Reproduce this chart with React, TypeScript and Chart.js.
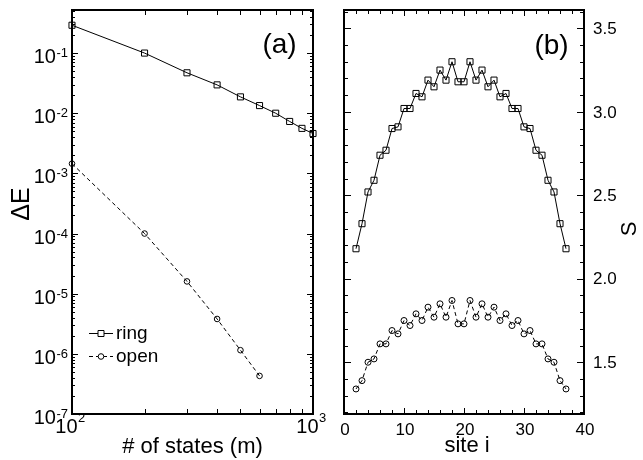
import React, { useEffect, useRef } from 'react';
import { Chart, registerables } from 'chart.js';

Chart.register(...registerables);

// ---------- data: panel (a) ----------
const statesM = [100, 200, 300, 400, 500, 600, 700, 800, 900, 1000];
const ringDeltaE = [0.29, 0.1, 0.047, 0.0296, 0.0187, 0.0134, 0.01, 0.0073, 0.0056, 0.0046];
const openStatesM = [100, 200, 300, 400, 500, 600];
const openDeltaE = [0.00145, 0.0001, 1.6e-5, 3.8e-6, 1.15e-6, 4.3e-7];

// ---------- data: panel (b) ----------
const sites = [2, 3, 4, 5, 6, 7, 8, 9, 10, 11, 12, 13, 14, 15, 16, 17, 18, 19, 20, 21, 22, 23, 24, 25, 26, 27, 28, 29, 30, 31, 32, 33, 34, 35, 36, 37];
const ringS = [2.18, 2.33, 2.52, 2.59, 2.74, 2.77, 2.9, 2.91, 3.02, 3.02, 3.11, 3.09, 3.19, 3.15, 3.25, 3.19, 3.3, 3.18, 3.18, 3.3, 3.19, 3.25, 3.15, 3.19, 3.09, 3.11, 3.02, 3.02, 2.91, 2.9, 2.77, 2.74, 2.59, 2.52, 2.33, 2.18];
const openS = [1.34, 1.39, 1.5, 1.52, 1.61, 1.61, 1.69, 1.67, 1.75, 1.72, 1.79, 1.75, 1.83, 1.77, 1.85, 1.77, 1.87, 1.73, 1.73, 1.87, 1.77, 1.85, 1.77, 1.83, 1.75, 1.79, 1.72, 1.75, 1.67, 1.69, 1.61, 1.61, 1.52, 1.5, 1.39, 1.34];

// ---------- ticks ----------
const yDecadeExpA = [-7, -6, -5, -4, -3, -2, -1];
const xDecadeExpA = [2, 3];
const siteTicks = [0, 10, 20, 30, 40];
const sTicks = [1.5, 2.0, 2.5, 3.0, 3.5];
const sTickLabels = ['1.5', '2.0', '2.5', '3.0', '3.5'];

const FONT = '"Liberation Sans", Arial, Helvetica, sans-serif';

function minorLog(exps: number[], maxV: number) {
  const out: number[] = [];
  for (const e of exps) for (let k = 2; k <= 9; k++) {
    const v = k * Math.pow(10, e);
    if (v <= maxV) out.push(v);
  }
  return out;
}

function frame(ctx: CanvasRenderingContext2D, a: any) {
  ctx.save();
  ctx.strokeStyle = '#000';
  ctx.lineWidth = 2;
  ctx.strokeRect(a.left, a.top, a.right - a.left, a.bottom - a.top);
  ctx.restore();
}

function ticksX(ctx: CanvasRenderingContext2D, sc: any, a: any, vals: number[], len: number) {
  ctx.save();
  ctx.strokeStyle = '#000';
  ctx.lineWidth = 1;
  ctx.beginPath();
  for (const v of vals) {
    const p = Math.round(sc.getPixelForValue(v)) + 0.5;
    ctx.moveTo(p, a.bottom); ctx.lineTo(p, a.bottom - len);
    ctx.moveTo(p, a.top); ctx.lineTo(p, a.top + len);
  }
  ctx.stroke();
  ctx.restore();
}

function ticksY(ctx: CanvasRenderingContext2D, sc: any, a: any, vals: number[], len: number) {
  ctx.save();
  ctx.strokeStyle = '#000';
  ctx.lineWidth = 1;
  ctx.beginPath();
  for (const v of vals) {
    const p = Math.round(sc.getPixelForValue(v)) + 0.5;
    ctx.moveTo(a.left, p); ctx.lineTo(a.left + len, p);
    ctx.moveTo(a.right, p); ctx.lineTo(a.right - len, p);
  }
  ctx.stroke();
  ctx.restore();
}

const BASE = 20;
const SUP = 13;

function powWidth(ctx: CanvasRenderingContext2D, exp: string) {
  ctx.font = `${BASE}px ${FONT}`;
  const w1 = ctx.measureText('10').width;
  ctx.font = `${SUP}px ${FONT}`;
  const w2 = ctx.measureText(exp).width;
  return [w1, w2];
}

function drawPow(ctx: CanvasRenderingContext2D, exp: string, left: number, base: number, supBase: number) {
  const [w1] = powWidth(ctx, exp);
  ctx.textAlign = 'left';
  ctx.textBaseline = 'alphabetic';
  ctx.font = `${BASE}px ${FONT}`;
  ctx.fillText('10', left, base);
  ctx.font = `${SUP}px ${FONT}`;
  ctx.fillText(exp, left + w1 + 0.5, supBase);
}

const panelAPlugin = {
  id: 'panelA',
  beforeDatasetsDraw(chart: any) {
    const { ctx, chartArea: a, scales } = chart;
    frame(ctx, a);
    ticksX(ctx, scales.x, a, minorLog([2], 1000), 5);
    ticksY(ctx, scales.y, a, minorLog(yDecadeExpA, 0.52), 3);
    ticksY(ctx, scales.y, a, yDecadeExpA.map((e) => Math.pow(10, e)), 6);
  },
  afterDraw(chart: any) {
    const { ctx, chartArea: a, scales } = chart;
    ctx.save();
    ctx.fillStyle = '#000';
    // y tick labels
    for (const e of yDecadeExpA) {
      const p = scales.y.getPixelForValue(Math.pow(10, e));
      const exp = String(e);
      const [w1, w2] = powWidth(ctx, exp);
      drawPow(ctx, exp, a.left - 4 - (w1 + w2 + 0.5), p + 10, p + 4);
    }
    // x tick labels
    for (const e of xDecadeExpA) {
      const p = scales.x.getPixelForValue(Math.pow(10, e));
      const exp = String(e);
      const [w1, w2] = powWidth(ctx, exp);
      drawPow(ctx, exp, p - 2 - (w1 + w2) / 2, a.bottom + 19, a.bottom + 8);
    }
    // axis titles
    ctx.font = `22px ${FONT}`;
    ctx.textAlign = 'center';
    ctx.textBaseline = 'alphabetic';
    ctx.fillText('# of states (m)', (a.left + a.right) / 2, a.bottom + 39);
    ctx.save();
    ctx.translate(29, 204);
    ctx.rotate(-Math.PI / 2);
    ctx.font = `25px ${FONT}`;
    ctx.fillText('ΔE', 0, 0);
    ctx.restore();
    // panel label
    ctx.font = `28px ${FONT}`;
    ctx.fillText('(a)', a.right - 33.5, a.top + 43);
    // legend
    const rows = [
      { y: 333, label: 'ring', dash: [] as number[], style: 'rect' },
      { y: 356, label: 'open', dash: [4, 3], style: 'circle' },
    ];
    for (const r of rows) {
      ctx.strokeStyle = '#000';
      ctx.lineWidth = 1;
      ctx.setLineDash(r.dash);
      ctx.beginPath();
      ctx.moveTo(89, r.y + 0.5);
      ctx.lineTo(113, r.y + 0.5);
      ctx.stroke();
      ctx.setLineDash([]);
      ctx.fillStyle = '#fff';
      ctx.beginPath();
      if (r.style === 'rect') ctx.rect(98, r.y - 2.5, 6, 6);
      else ctx.arc(101, r.y + 0.5, 2.8, 0, Math.PI * 2);
      ctx.fill();
      ctx.stroke();
      ctx.fillStyle = '#000';
      ctx.font = `19px ${FONT}`;
      ctx.textAlign = 'left';
      ctx.textBaseline = 'middle';
      ctx.fillText(r.label, 116, r.y + 1);
    }
    ctx.restore();
  },
};

function range(from: number, to: number, step: number, skip: number) {
  const out: number[] = [];
  for (let v = from; v <= to + 1e-9; v += step) {
    const r = Math.round(v * 1000) / 1000;
    if (Math.abs(r / skip - Math.round(r / skip)) > 1e-6) out.push(r);
  }
  return out;
}

const panelBPlugin = {
  id: 'panelB',
  beforeDatasetsDraw(chart: any) {
    const { ctx, chartArea: a, scales } = chart;
    frame(ctx, a);
    ticksX(ctx, scales.x, a, range(0, 40, 2, 10), 4);
    ticksX(ctx, scales.x, a, siteTicks, 6);
    ticksY(ctx, scales.y, a, range(1.2, 3.6, 0.1, 0.5), 4);
    ticksY(ctx, scales.y, a, sTicks, 7);
  },
  afterDraw(chart: any) {
    const { ctx, chartArea: a, scales } = chart;
    ctx.save();
    ctx.fillStyle = '#000';
    ctx.font = `17px ${FONT}`;
    ctx.textAlign = 'center';
    ctx.textBaseline = 'alphabetic';
    for (const v of siteTicks) {
      ctx.fillText(String(v), scales.x.getPixelForValue(v) + 1, a.bottom + 21);
    }
    ctx.textAlign = 'left';
    ctx.textBaseline = 'middle';
    sTicks.forEach((v, i) => {
      ctx.fillText(sTickLabels[i], a.right + 9, scales.y.getPixelForValue(v) + 1);
    });
    ctx.textAlign = 'center';
    ctx.textBaseline = 'alphabetic';
    ctx.font = `22px ${FONT}`;
    ctx.fillText('site i', (a.left + a.right) / 2 + 3, a.bottom + 38);
    ctx.save();
    ctx.translate(a.right + 52, 229);
    ctx.rotate(-Math.PI / 2);
    ctx.fillText('S', 0, 0);
    ctx.restore();
    ctx.font = `28px ${FONT}`;
    ctx.fillText('(b)', a.right - 32.5, a.top + 44);
    ctx.restore();
  },
};

const lineBase = {
  borderColor: '#000',
  borderWidth: 1,
  pointBorderColor: '#000',
  pointBackgroundColor: 'rgba(0,0,0,0)',
  pointBorderWidth: 1,
  fill: false,
  tension: 0,
  clip: false as any,
};

export default function App() {
  const refA = useRef<HTMLCanvasElement>(null);
  const refB = useRef<HTMLCanvasElement>(null);

  useEffect(() => {
    const chartA = new Chart(refA.current!, {
      type: 'line',
      data: {
        datasets: [
          {
            ...lineBase,
            label: 'ring',
            data: statesM.map((m, i) => ({ x: m, y: ringDeltaE[i] })),
            pointStyle: 'rect',
            pointRadius: 4.3,
          },
          {
            ...lineBase,
            label: 'open',
            data: openStatesM.map((m, i) => ({ x: m, y: openDeltaE[i] })),
            borderDash: [4, 3],
            pointStyle: 'circle',
            pointRadius: 2.8,
          },
        ] as any,
      },
      options: {
        responsive: false,
        animation: false,
        events: [],
        layout: { padding: { left: 72, top: 10, right: 17, bottom: 46 } },
        scales: {
          x: { type: 'logarithmic', min: 100, max: 1000, display: false },
          y: { type: 'logarithmic', min: 1e-7, max: 0.52, display: false },
        },
        plugins: { legend: { display: false }, tooltip: { enabled: false } },
      },
      plugins: [panelAPlugin],
    });

    const chartB = new Chart(refB.current!, {
      type: 'line',
      data: {
        datasets: [
          {
            ...lineBase,
            label: 'ring',
            data: sites.map((s, i) => ({ x: s, y: ringS[i] })),
            pointStyle: 'rect',
            pointRadius: 4.3,
          },
          {
            ...lineBase,
            label: 'open',
            data: sites.map((s, i) => ({ x: s, y: openS[i] })),
            borderDash: [4, 3],
            pointStyle: 'circle',
            pointRadius: 3,
          },
        ] as any,
      },
      options: {
        responsive: false,
        animation: false,
        events: [],
        layout: { padding: { left: 14, top: 10, right: 59, bottom: 46 } },
        scales: {
          x: { type: 'linear', min: 0, max: 40, display: false },
          y: { type: 'linear', min: 1.19, max: 3.61, display: false },
        },
        plugins: { legend: { display: false }, tooltip: { enabled: false } },
      },
      plugins: [panelBPlugin],
    });

    return () => {
      chartA.destroy();
      chartB.destroy();
    };
  }, []);

  return (
    <div style={{ position: 'fixed', left: 0, top: 0, width: 643, height: 460, background: '#fff' }}>
      <canvas ref={refA} width={330} height={460} style={{ position: 'absolute', left: 0, top: 0, width: 330, height: 460 }} />
      <canvas ref={refB} width={313} height={460} style={{ position: 'absolute', left: 330, top: 0, width: 313, height: 460 }} />
    </div>
  );
}
